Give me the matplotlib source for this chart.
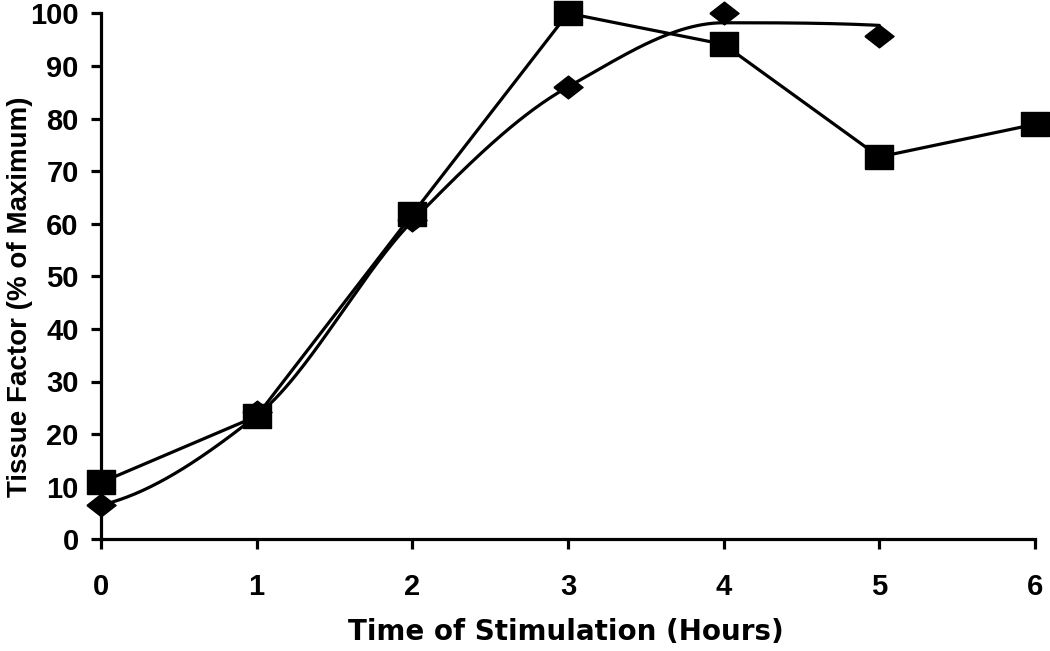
import numpy as np
import matplotlib
matplotlib.use("Agg")
import matplotlib.pyplot as plt

plt.rcParams['font.family'] = ['Liberation Sans', 'DejaVu Sans']
plt.rcParams['font.weight'] = 'bold'

hours = [0, 1, 2, 3, 4, 5, 6]
square_vals = [10.8, 23.4, 61.8, 100, 94.1, 72.7, 78.9]
diamond_hours = [0, 1, 2, 3, 4, 5]
diamond_vals = [6.5, 24.2, 60.7, 86.0, 100, 95.6]
# smoothed line drawn through these knots
diamond_line = [6.5, 23.5, 60.5, 86.0, 98.2, 97.7]

x_ticks = [0, 1, 2, 3, 4, 5, 6]
y_ticks = [0, 10, 20, 30, 40, 50, 60, 70, 80, 90, 100]


def pchip(xs, ys, n=60):
    x = np.asarray(xs, float)
    y = np.asarray(ys, float)
    h = np.diff(x)
    d = np.diff(y) / h
    m = np.zeros_like(y)
    for k in range(1, len(x) - 1):
        if d[k - 1] * d[k] <= 0:
            m[k] = 0.0
        else:
            w1 = 2 * h[k] + h[k - 1]
            w2 = h[k] + 2 * h[k - 1]
            m[k] = (w1 + w2) / (w1 / d[k - 1] + w2 / d[k])

    def end(h0, h1, d0, d1):
        v = ((2 * h0 + h1) * d0 - h0 * d1) / (h0 + h1)
        if np.sign(v) != np.sign(d0):
            v = 0.0
        elif np.sign(d0) != np.sign(d1) and abs(v) > abs(3 * d0):
            v = 3 * d0
        return v
    m[0] = end(h[0], h[1], d[0], d[1])
    m[-1] = end(h[-1], h[-2], d[-1], d[-2])
    ox, oy = [], []
    for k in range(len(x) - 1):
        t = np.linspace(0, 1, n)
        h00 = 2 * t ** 3 - 3 * t ** 2 + 1
        h10 = t ** 3 - 2 * t ** 2 + t
        h01 = -2 * t ** 3 + 3 * t ** 2
        h11 = t ** 3 - t ** 2
        seg = h00 * y[k] + h10 * h[k] * m[k] + h01 * y[k + 1] + h11 * h[k] * m[k + 1]
        ox.append(x[k] + t * h[k])
        oy.append(seg)
    return np.concatenate(ox), np.concatenate(oy)


fig = plt.figure(figsize=(10.5, 6.51), dpi=100)
ax = fig.add_axes([101 / 1050, 1 - 539.3 / 651, (1035 - 101) / 1050, (539.3 - 13.3) / 651])

sq_marker = [(-1, -0.85), (1, -0.85), (1, 0.85), (-1, 0.85), (-1, -0.85)]
dm_marker = [(-1, 0), (0, 0.78), (1, 0), (0, -0.78), (-1, 0)]

sx, sy = pchip(diamond_hours, diamond_line)
ax.plot(sx, sy, color='black', lw=2.3, solid_capstyle='round', clip_on=False, zorder=3)
ax.plot(diamond_hours, diamond_vals, linestyle='none', marker=dm_marker, markersize=21,
        color='black', clip_on=False, zorder=4)
ax.plot(hours, square_vals, color='black', lw=2.3, marker=sq_marker, markersize=20,
        clip_on=False, zorder=5)

ax.set_xlim(0, 6)
ax.set_ylim(0, 100)
ax.set_xticks(x_ticks)
ax.set_yticks(y_ticks)
for s in ['top', 'right']:
    ax.spines[s].set_visible(False)
for s in ['left', 'bottom']:
    ax.spines[s].set_linewidth(2.3)
ax.tick_params(axis='both', direction='out', length=7, width=2.3, labelsize=21, colors='black')
ax.tick_params(axis='x', pad=17)
ax.tick_params(axis='y', pad=9)
for lab in ax.get_xticklabels() + ax.get_yticklabels():
    lab.set_fontweight('bold')

fig.text(566 / 1050, 1 - 632 / 651, 'Time of Stimulation (Hours)',
         ha='center', va='center', fontsize=20, fontweight='bold',
         family=['DejaVu Sans'])
fig.text(20 / 1050, 1 - 297 / 651, 'Tissue Factor (% of Maximum)', rotation=90,
         ha='center', va='center', fontsize=20, fontweight='bold')

fig.savefig('out.png', dpi=100)
